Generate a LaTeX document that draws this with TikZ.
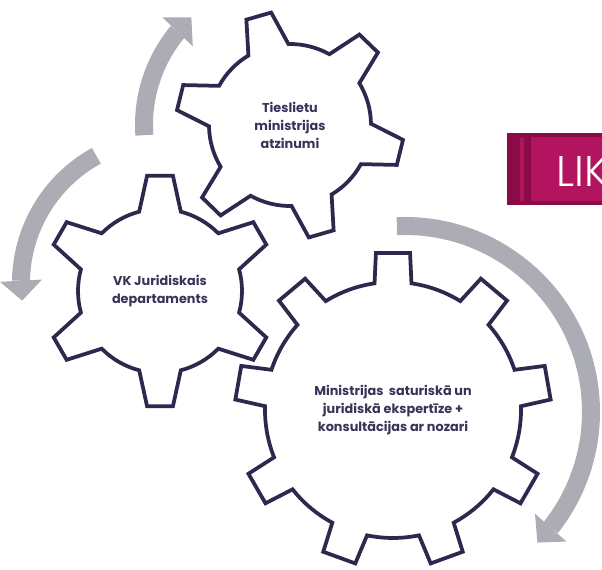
\documentclass[tikz,border=0pt]{standalone}
\usepackage{fontspec}
\setmainfont{Poppins}
\newfontfamily\likfont{Poppins Light}
\usepackage{xcolor}
\usetikzlibrary{arrows.meta,bending}

\definecolor{gearline}{RGB}{46,40,78}
\definecolor{geartext}{RGB}{58,50,88}
\definecolor{cyclegray}{RGB}{172,172,180}
\definecolor{likdark}{RGB}{138,12,70}
\definecolor{likmain}{RGB}{178,20,96}

% gear outline round a named coordinate:
% #1 centre, #2 teeth, #3 first tooth angle, #4 root radius, #5 tip radius,
% #6 half angle at root, #7 half angle at tip
\newcommand{\gearoutline}[7]{%
  \pgfmathsetmacro{\gearstep}{360/#2}
  \draw[gear, shift={(#1)}] ({#3-#6}:#4)
    \foreach \k in {1,...,#2} {
      -- ({#3+(\k-1)*\gearstep-#7}:#5)
      -- ({#3+(\k-1)*\gearstep+#7}:#5)
      -- ({#3+(\k-1)*\gearstep+#6}:#4)
      arc[start angle={#3+(\k-1)*\gearstep+#6}, end angle={#3+\k*\gearstep-#6}, radius=#4]
    } -- cycle;
}

\begin{document}
\begin{tikzpicture}[
    x=0.02cm, y=0.02cm,
    gear/.style={draw=gearline, line width=0.075cm, fill=white, line join=miter},
    gearlabel/.style={align=center, font=\bfseries\fontsize{7.3}{10.2}\selectfont, text=geartext, inner sep=0pt},
    cyclearrow/.style={draw=cyclegray, line width=0.36cm, -{Triangle[width=0.84cm, length=0.4cm, line width=0pt, flex]}},
    liklabel/.style={font=\likfont\fontsize{24.4}{28}\selectfont, text=white, inner sep=0pt}
]
\useasboundingbox (0,0) rectangle (602,-570);
\clip (0,0) rectangle (602,-570);

% gear centres
\coordinate (tj) at (290,-125);
\coordinate (vk) at (160,-291);
\coordinate (min) at (393,-410);
\coordinate (vkturn) at (166,-283);
\coordinate (minturn) at (405,-412);

% LIK bar (cut by the right edge)
\fill[likdark] (507,-133) rectangle (620,-205);
\fill[likmain] (520,-138) rectangle (524,-201);
\fill[likmain] (531,-137) rectangle (620,-201);
\node[liklabel, anchor=base west] (lik) at (556,-187) {LIK};

% cycle arrows
\draw[cyclearrow] ([shift={(184:146)}]tj) arc[start angle=184, end angle=132.5, radius=146];
\draw[cyclearrow] ([shift={(118.7:145)}]vkturn) arc[start angle=118.7, end angle=187, radius=145];
\draw[cyclearrow] ([shift={(92.5:186)}]minturn) arc[start angle=92.5, end angle=-44.6, radius=186];

% gears
\gearoutline{tj}{6}{106}{81}{114}{14.9}{6.5}
\gearoutline{vk}{6}{90}{82}{116}{14.7}{6.4}
\gearoutline{min}{9}{90}{128}{158}{8.3}{6.2}

% gear texts
\node[gearlabel] (tjtext) at (tj) {Tieslietu\\ministrijas\\atzinumi};
\node[gearlabel] (vktext) at (vk) {VK Juridiskais\\departaments};
\node[gearlabel] (mintext) at (min) {Ministrijas\ \ saturiskā un\\juridiskā ekspertīze +\\konsultācijas ar nozari};

\end{tikzpicture}
\end{document}
